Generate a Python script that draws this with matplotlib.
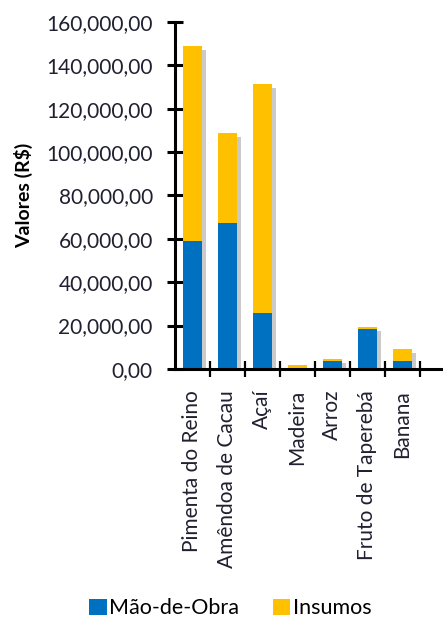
import matplotlib
matplotlib.use("Agg")
import matplotlib.pyplot as plt
import matplotlib.patheffects as pe
from matplotlib.ticker import FuncFormatter, FixedLocator
import numpy as np

plt.rcParams['font.family'] = ['Lato', 'DejaVu Sans']

categorias = ["Pimenta do Reino", "Amêndoa de Cacau", "Açaí", "Madeira",
              "Arroz", "Fruto de Taperebá", "Banana"]
mao_de_obra = [59200, 67500, 25800, 300, 3700, 18400, 3600]
insumos = [89800, 41500, 105500, 1500, 800, 900, 5500]

AZUL = "#0070C0"
AMARELO = "#FFC000"


def fmt_reais(v, pos):
    return f"{v:,.0f},00"


fig = plt.figure(figsize=(4.43, 6.19), dpi=100)
ax = fig.add_axes([0.395, 0.404, 0.6, 0.5605])

x = np.arange(len(categorias))
total = np.array(mao_de_obra) + np.array(insumos)

# sombra atras das barras empilhadas
sombras = ax.bar(x, total, width=0.53, color="white", zorder=2)
for s in sombras:
    s.set_path_effects([pe.SimplePatchShadow(offset=(3, -3), shadow_rgbFace="#8a8a8a", alpha=0.45)])

b1 = ax.bar(x, mao_de_obra, width=0.53, color=AZUL, label="Mão-de-Obra", zorder=3)
b2 = ax.bar(x, insumos, width=0.53, bottom=mao_de_obra, color=AMARELO, label="Insumos", zorder=3)

ax.set_ylim(0, 160000)
ax.set_xlim(-0.5, 7.1)
ax.set_yticks(np.arange(0, 160001, 20000))
ax.yaxis.set_major_formatter(FuncFormatter(fmt_reais))

ax.set_xticks(x)
ax.set_xticklabels(categorias, rotation=90, va="top", ha="center")
ax.xaxis.set_minor_locator(FixedLocator(np.arange(0.5, 7, 1)))

for lado in ["top", "right"]:
    ax.spines[lado].set_visible(False)
for lado in ["left", "bottom"]:
    ax.spines[lado].set_linewidth(2.2)
    ax.spines[lado].set_color("black")
    ax.spines[lado].set_zorder(4)

ax.tick_params(axis="y", direction="inout", length=12, width=2.2, labelsize=15,
               labelcolor="#202030", pad=10)
ax.tick_params(axis="x", which="major", length=0, labelsize=15, labelcolor="#202030", pad=15)
ax.tick_params(axis="x", which="minor", direction="inout", length=12, width=1.6)

ax.set_ylabel("Valores (R$)", fontsize=14, fontweight="bold")
ax.yaxis.set_label_coords(-0.535, 0.5)

fig.legend(handles=[b1, b2], loc="center", bbox_to_anchor=(0.52, 0.017), ncol=2,
           frameon=False, fontsize=15.5, handlelength=0.8, handleheight=0.8,
           handletextpad=0.1, columnspacing=1.6)

fig.savefig("out.png", dpi=100)
